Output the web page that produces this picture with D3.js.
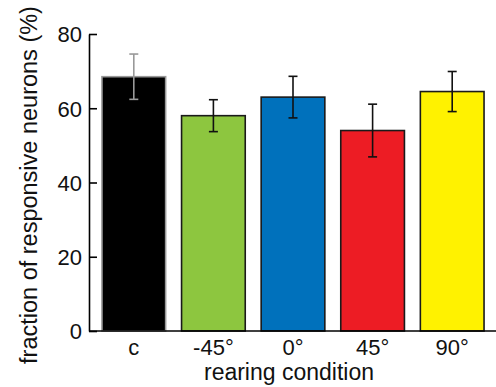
<!DOCTYPE html>
<html>
<head>
<meta charset="utf-8">
<script src="https://cdn.jsdelivr.net/npm/d3@7"></script>
<style>
  body { margin: 0; background: #fff; }
  svg { display: block; font-family: "Liberation Sans", Arial, sans-serif; }
</style>
</head>
<body>
<svg width="496" height="387"></svg>
<script>
// Data
let conditions = ['c', '-45°', '0°', '45°', '90°'];
let means = [68.5, 58, 63, 54, 64.5];
let errors = [6.1, 4.3, 5.6, 7.1, 5.4];
let fills = ['#000000', '#8dc63f', '#0071bc', '#ed1c24', '#fff200'];
let edges = ['#999999', '#1a1a1a', '#1a1a1a', '#1a1a1a', '#1a1a1a'];
let errColors = ['#999999', '#111111', '#111111', '#111111', '#111111'];
let yTicks = [0, 20, 40, 60, 80];

let svg = d3.select('svg');
let plotLeft = 89, plotBottom = 331, plotTop = 34;

let x = d3.scaleBand()
    .domain(conditions)
    .range([94, 492])
    .paddingInner(0.2)
    .paddingOuter(0.1);

let y = d3.scaleLinear()
    .domain([0, 80])
    .range([plotBottom, plotTop]);

// Bars
svg.selectAll('rect.bar')
    .data(conditions)
    .enter().append('rect')
    .attr('class', 'bar')
    .attr('x', d => x(d))
    .attr('y', (d, i) => y(means[i]))
    .attr('width', x.bandwidth())
    .attr('height', (d, i) => y(0) - y(means[i]))
    .attr('fill', (d, i) => fills[i])
    .attr('stroke', (d, i) => edges[i])
    .attr('stroke-width', 1.6);

// Error bars
let eb = svg.selectAll('g.err')
    .data(conditions)
    .enter().append('g')
    .attr('class', 'err')
    .attr('stroke', (d, i) => errColors[i])
    .attr('stroke-width', 1.6);

eb.append('line')
    .attr('x1', d => x(d) + x.bandwidth() / 2)
    .attr('x2', d => x(d) + x.bandwidth() / 2)
    .attr('y1', (d, i) => y(means[i] + errors[i]))
    .attr('y2', (d, i) => y(means[i] - errors[i]));

[1, -1].forEach(s => {
    eb.append('line')
        .attr('x1', d => x(d) + x.bandwidth() / 2 - 4.5)
        .attr('x2', d => x(d) + x.bandwidth() / 2 + 4.5)
        .attr('y1', (d, i) => y(means[i] + s * errors[i]))
        .attr('y2', (d, i) => y(means[i] + s * errors[i]));
});

// Y axis (ticks point inward)
let yAxis = svg.append('g')
    .attr('transform', 'translate(' + plotLeft + ',0)')
    .call(d3.axisRight(y).tickValues(yTicks).tickSize(8).tickSizeOuter(0));
yAxis.select('.domain').attr('stroke', '#000').attr('stroke-width', 1.6);
yAxis.selectAll('.tick line').attr('stroke', '#000').attr('stroke-width', 1.6);
yAxis.selectAll('.tick text')
    .attr('x', -7)
    .attr('dy', '0.36em')
    .attr('text-anchor', 'end')
    .attr('font-size', 22)
    .attr('fill', '#111');

// X axis baseline
svg.append('line')
    .attr('x1', plotLeft)
    .attr('x2', 496)
    .attr('y1', plotBottom)
    .attr('y2', plotBottom)
    .attr('stroke', '#000')
    .attr('stroke-width', 1.6);

// X tick labels
svg.selectAll('text.xl')
    .data(conditions)
    .enter().append('text')
    .attr('class', 'xl')
    .attr('x', d => x(d) + x.bandwidth() / 2)
    .attr('y', 355)
    .attr('text-anchor', 'middle')
    .attr('font-size', 22)
    .attr('fill', '#111')
    .text(d => d);

// Axis titles
svg.append('text')
    .attr('x', 289)
    .attr('y', 380)
    .attr('text-anchor', 'middle')
    .attr('font-size', 23)
    .attr('fill', '#111')
    .text('rearing condition');

svg.append('text')
    .attr('transform', 'translate(37,185) rotate(-90)')
    .attr('text-anchor', 'middle')
    .attr('font-size', 23.5)
    .attr('fill', '#111')
    .text('fraction of responsive neurons (%)');
</script>
</body>
</html>
